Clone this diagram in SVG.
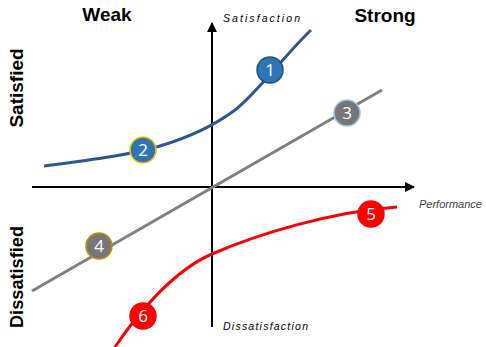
<svg xmlns="http://www.w3.org/2000/svg" width="486" height="347" viewBox="0 0 486 347">
<defs>
<style>
.lbl{font-family:"Liberation Sans",Arial,sans-serif;font-weight:bold;font-size:19px;fill:#000}
.ax{font-family:"Liberation Sans",Arial,sans-serif;font-style:italic;font-size:10.5px;fill:#000}
.perf{font-family:"Liberation Sans",Arial,sans-serif;font-style:italic;font-size:11px;fill:#404040}
.num{font-family:"Open Sans","Liberation Sans",sans-serif;font-size:17px;fill:#fff;text-anchor:middle}
.badge{stroke-width:1.5}
</style>
<marker id="arr" viewBox="0 0 10 10" refX="9" refY="5" markerWidth="5" markerHeight="5" orient="auto" markerUnits="strokeWidth">
<path d="M0,0 L10,5 L0,10 z" fill="#000"/>
</marker>
</defs>
<rect width="486" height="347" fill="#fff"/>
<g id="labels">
<text class="lbl" x="107" y="21" text-anchor="middle">Weak</text>
<text class="lbl" x="385" y="22" text-anchor="middle">Strong</text>
<text class="lbl" transform="translate(23,88) rotate(-90)" text-anchor="middle">Satisfied</text>
<text class="lbl" transform="translate(23,277) rotate(-90)" text-anchor="middle" textLength="102" lengthAdjust="spacingAndGlyphs">Dissatisfied</text>
<text class="ax" x="223" y="22" textLength="77" lengthAdjust="spacing">Satisfaction</text>
<text class="ax" x="223" y="330" textLength="85" lengthAdjust="spacing">Dissatisfaction</text>
<text class="perf" x="419" y="208">Performance</text>
</g>
<g id="connectors" fill="none">
<line x1="212" y1="327" x2="212" y2="23" stroke="#000" stroke-width="2" marker-end="url(#arr)"/>
<line x1="32" y1="187" x2="414" y2="187" stroke="#000" stroke-width="2" marker-end="url(#arr)"/>
<path d="M44,166 C90,160 130,155 160,146 C190,137 215,125 235,110 C255,95 285,55 311,30" stroke="#2F5597" stroke-width="3"/>
<line x1="32" y1="291" x2="382" y2="90" stroke="#808080" stroke-width="3"/>
<path d="M115,347 C140,310 175,270 212,254 C258,234 330,212 397,207" stroke="#FF0000" stroke-width="3"/>
</g>
<g id="node1"><circle class="badge" cx="270" cy="70" r="13" fill="#2E75B6" stroke="#1F4E79"/><text class="num" x="270" y="76">1</text></g>
<g id="node2"><circle class="badge" cx="143" cy="150" r="13" fill="#2E75B6" stroke="#FFC000"/><text class="num" x="143" y="156">2</text></g>
<g id="node3"><circle class="badge" cx="347" cy="113" r="13" fill="#767676" stroke="#9DC3E6"/><text class="num" x="347" y="119">3</text></g>
<g id="node4"><circle class="badge" cx="99" cy="246" r="13" fill="#767676" stroke="#BF9000"/><text class="num" x="99" y="252">4</text></g>
<g id="node5"><circle class="badge" cx="371" cy="214" r="13" fill="#FF0000" stroke="#FF0000"/><text class="num" x="371" y="220">5</text></g>
<g id="node6"><circle class="badge" cx="143" cy="316" r="13" fill="#FF0000" stroke="#FF0000"/><text class="num" x="143" y="322">6</text></g>
</svg>
